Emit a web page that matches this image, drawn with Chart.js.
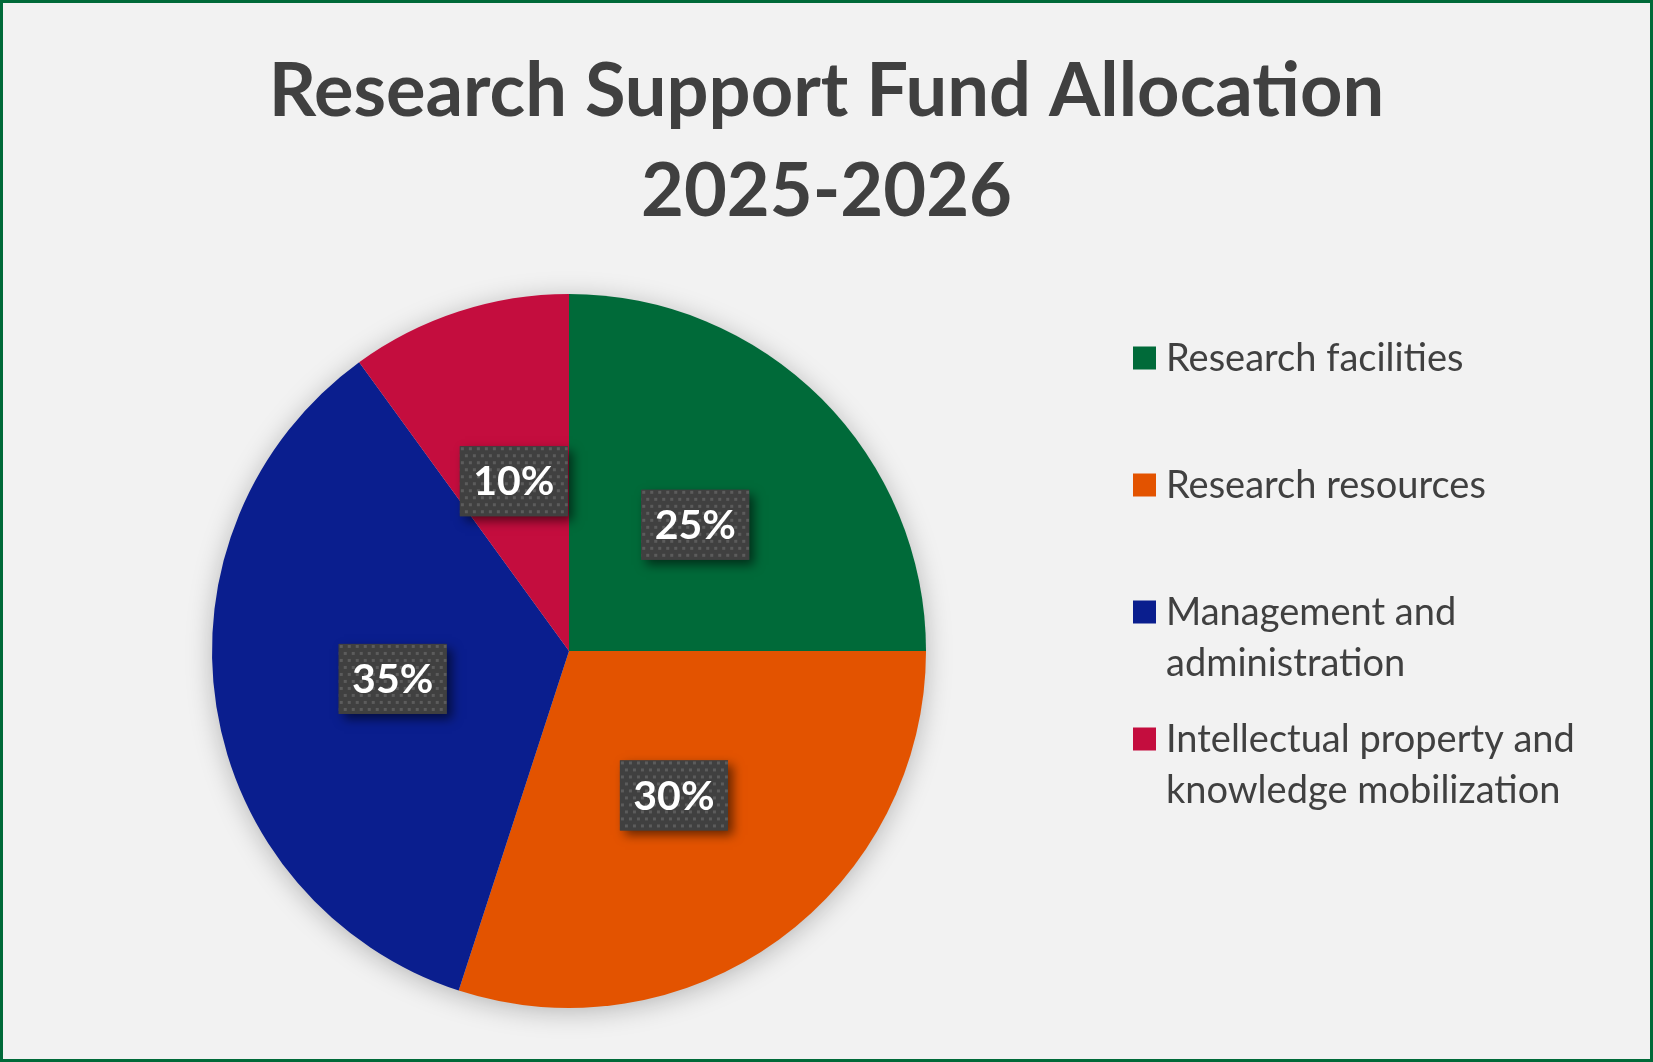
<!DOCTYPE html>
<html>
<head>
<meta charset="utf-8">
<script src="https://cdn.jsdelivr.net/npm/chart.js@4.4.1/dist/chart.umd.min.js"></script>
<style>
html,body{margin:0;padding:0;background:#F2F2F2;}
#wrap{width:1653px;height:1062px;position:relative;}
</style>
</head>
<body>
<div id="wrap"><canvas id="c" width="1653" height="1062"></canvas></div>
<script>
const titleLines = ['Research Support Fund Allocation', '2025-2026'];
const categories = ['Research facilities', 'Research resources', 'Management and administration', 'Intellectual property and knowledge mobilization'];
const values = [25, 30, 35, 10];
const colors = ['#006A39', '#E35300', '#0A1E8E', '#C40D3E'];

function makePattern(ctx){
  const p = document.createElement('canvas');
  p.width = 8; p.height = 14;
  const g = p.getContext('2d');
  g.fillStyle = '#404040'; g.fillRect(0,0,8,14);
  g.fillStyle = '#5c5c5c';
  g.fillRect(1,1,3,3);
  g.fillRect(5,8,3,3);
  return ctx.createPattern(p,'repeat');
}

const bgPlugin = {
  id:'bg',
  beforeDraw(chart){
    const ctx = chart.ctx;
    ctx.save();
    ctx.fillStyle = '#F2F2F2';
    ctx.fillRect(0,0,chart.width,chart.height);
    ctx.restore();
  },
  beforeDatasetsDraw(chart){
    const arc = chart.getDatasetMeta(0).data[0];
    if(!arc) return;
    const ctx = chart.ctx;
    ctx.save();
    ctx.shadowColor = 'rgba(0,0,0,0.28)';
    ctx.shadowBlur = 28;
    ctx.shadowOffsetX = 0; ctx.shadowOffsetY = 4;
    ctx.fillStyle = '#cccccc';
    ctx.beginPath();
    ctx.arc(arc.x, arc.y, arc.outerRadius-2, 0, Math.PI*2);
    ctx.fill();
    ctx.restore();
  },
  afterDraw(chart){
    const ctx = chart.ctx;
    ctx.save();
    ctx.fillStyle = '#404040';
    ctx.font = 'bold 74px Lato, "Open Sans", sans-serif';
    ctx.textAlign = 'center';
    ctx.textBaseline = 'middle';
    titleLines.forEach((t,i)=>ctx.fillText(t, chart.width/2, 92 + i*100));
    ctx.strokeStyle = '#006A39';
    ctx.lineWidth = 3;
    ctx.strokeRect(1.5,1.5,chart.width-3,chart.height-3);
    ctx.restore();
  }
};

const labelPlugin = {
  id:'boxLabels',
  afterDatasetsDraw(chart){
    const ctx = chart.ctx;
    const meta = chart.getDatasetMeta(0);
    const pat = makePattern(ctx);
    const total = values.reduce((a,b)=>a+b,0);
    meta.data.forEach((arc,i)=>{
      const pos = arc.tooltipPosition();
      const txt = Math.round(values[i]/total*100) + '%';
      const w = 108, h = 70;
      const x = pos.x - w/2, y = pos.y - h/2;
      ctx.save();
      ctx.shadowColor = 'rgba(0,0,0,0.55)';
      ctx.shadowBlur = 10;
      ctx.shadowOffsetX = 5; ctx.shadowOffsetY = 5;
      ctx.fillStyle = '#404040';
      ctx.fillRect(x,y,w,h);
      ctx.restore();
      ctx.save();
      ctx.translate(x,y);
      ctx.fillStyle = pat;
      ctx.fillRect(0,0,w,h);
      ctx.restore();
      ctx.save();
      ctx.fillStyle = '#FFFFFF';
      ctx.font = 'bold 41px Lato, "Open Sans", sans-serif';
      ctx.textAlign = 'center';
      ctx.textBaseline = 'middle';
      ctx.fillText(txt, pos.x, pos.y+1);
      ctx.restore();
    });
  }
};

const legendPlugin = {
  id:'sideLegend',
  afterDraw(chart){
    const ctx = chart.ctx;
    const boxX = 1133, textX = 1166, maxW = 450;
    const startY = 358, slot = 127, lineH = 51, box = 23;
    ctx.save();
    ctx.font = '38px Lato, "Open Sans", sans-serif';
    ctx.textBaseline = 'middle';
    categories.forEach((cat,i)=>{
      const cy = startY + i*slot;
      ctx.fillStyle = colors[i];
      ctx.fillRect(boxX, cy - box/2, box, box);
      const words = cat.split(' ');
      const lines = [];
      let cur = '';
      words.forEach(wd=>{
        const t = cur ? cur + ' ' + wd : wd;
        if(ctx.measureText(t).width > maxW && cur){ lines.push(cur); cur = wd; }
        else cur = t;
      });
      if(cur) lines.push(cur);
      ctx.fillStyle = '#404040';
      lines.forEach((ln,j)=>ctx.fillText(ln, textX, cy + 1 + j*lineH));
    });
    ctx.restore();
  }
};

new Chart(document.getElementById('c'), {
  type:'pie',
  data:{
    labels: categories,
    datasets:[{ data: values, backgroundColor: colors, borderWidth: 0, hoverOffset: 0 }]
  },
  options:{
    responsive:false,
    animation:false,
    devicePixelRatio:1,
    layout:{ padding:{ left:212, right:727, top:294, bottom:54 } },
    plugins:{
      legend:{ display:false },
      tooltip:{ enabled:false },
      title:{ display:false }
    }
  },
  plugins:[bgPlugin, labelPlugin, legendPlugin]
});
</script>
</body>
</html>
